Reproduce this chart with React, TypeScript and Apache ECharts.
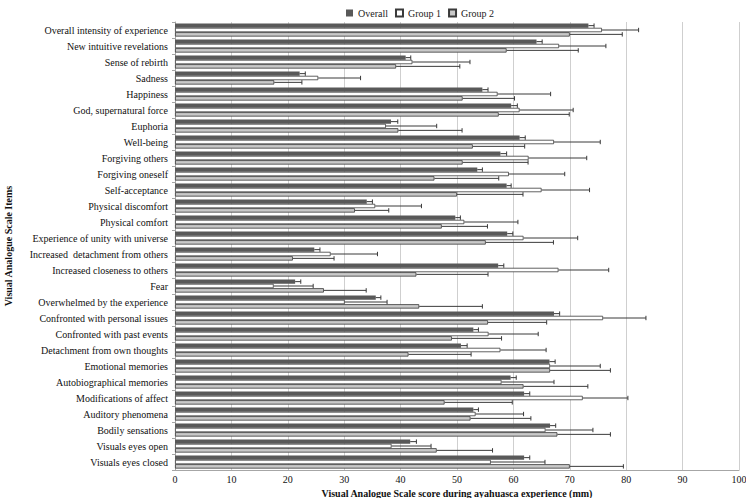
import React, { useEffect, useRef } from "react";
import * as echarts from "echarts";

const categories = [
  "Overall intensity of experience",
  "New intuitive revelations",
  "Sense of rebirth",
  "Sadness",
  "Happiness",
  "God, supernatural force",
  "Euphoria",
  "Well-being",
  "Forgiving others",
  "Forgiving oneself",
  "Self-acceptance",
  "Physical discomfort",
  "Physical comfort",
  "Experience of unity with universe",
  "Increased  detachment from others",
  "Increased closeness to others",
  "Fear",
  "Overwhelmed by the experience",
  "Confronted with personal issues",
  "Confronted with past events",
  "Detachment from own thoughts",
  "Emotional memories",
  "Autobiographical memories",
  "Modifications of affect",
  "Auditory phenomena",
  "Bodily sensations",
  "Visuals eyes open",
  "Visuals eyes closed",
];

const overall = [73.3, 64.1, 40.9, 22.1, 54.5, 59.6, 38.3, 61.1, 57.7, 53.6, 58.8, 34.0, 49.7, 58.9, 24.7, 57.3, 21.3, 35.6, 67.2, 52.9, 50.7, 66.4, 59.5, 61.9, 52.9, 66.5, 41.7, 61.9];
const overallErr = [1.0, 1.0, 0.9, 1.0, 1.0, 1.1, 1.2, 1.0, 1.1, 0.9, 0.8, 1.0, 0.9, 1.0, 1.0, 1.0, 1.0, 0.9, 1.0, 0.9, 1.1, 1.0, 1.0, 1.0, 0.9, 1.0, 1.1, 1.0];

const group1 = [75.7, 68.1, 42.1, 25.4, 57.2, 61.1, 37.4, 67.2, 62.7, 59.2, 65.0, 35.5, 51.3, 61.8, 27.6, 68.0, 17.5, 30.1, 75.9, 55.6, 57.7, 66.5, 57.9, 72.3, 53.3, 65.7, 38.4, 56.0];
const group1Err = [6.5, 8.3, 10.2, 7.5, 9.4, 9.5, 9.0, 8.2, 10.3, 9.9, 8.5, 8.2, 9.5, 9.6, 8.3, 8.9, 7.0, 7.5, 7.6, 8.8, 8.1, 8.9, 9.3, 8.0, 8.5, 8.4, 7.0, 9.6];

const group2 = [70.0, 58.8, 39.2, 17.6, 51.0, 57.4, 39.6, 52.8, 51.0, 46.0, 50.0, 31.9, 47.3, 55.1, 20.9, 42.8, 26.4, 43.3, 55.5, 49.1, 41.4, 66.5, 61.8, 47.8, 52.4, 67.8, 46.4, 70.0];
const group2Err = [9.3, 12.7, 11.3, 4.9, 9.2, 12.5, 11.3, 9.2, 11.6, 11.4, 11.7, 6.0, 8.1, 12.0, 7.3, 12.7, 7.5, 11.2, 10.4, 8.8, 11.1, 10.7, 11.4, 12.0, 10.7, 9.4, 9.9, 9.5];

const seriesNames = ["Overall", "Group 1", "Group 2"];
const xTicks = [0, 10, 20, 30, 40, 50, 60, 70, 80, 90, 100];

const FONT = "Liberation Serif";
const CAT_GAP = 0.18;

export default function App() {
  const ref = useRef<HTMLDivElement>(null);

  useEffect(() => {
    if (!ref.current) return;
    const chart = echarts.init(ref.current, undefined, { renderer: "svg" });

    const values = [overall, group1, group2];
    const errs = [overallErr, group1Err, group2Err];
    const fills = ["#595959", "#ffffff", "#c9c9c9"];

    const barSeries = values.map((v, i) => ({
      name: seriesNames[i],
      type: "bar",
      data: v,
      barGap: "0%",
      barCategoryGap: CAT_GAP * 100 + "%",
      itemStyle: {
        color: fills[i],
        borderColor: i === 0 ? "#4a4a4a" : "#3a3a3a",
        borderWidth: i === 0 ? 0 : 0.8,
      },
      z: 2,
    }));

    const errSeries = values.map((v, i) => ({
      name: "err" + i,
      type: "custom",
      z: 3,
      data: v.map((val, k) => [val, k, errs[i][k]]),
      encode: { x: 0, y: 1 },
      renderItem: (params: any, api: any) => {
        const val = api.value(0);
        const idx = api.value(1);
        const e = api.value(2);
        const band = api.size([0, 1])[1];
        const w = (band * (1 - CAT_GAP)) / 3;
        const p0 = api.coord([val, idx]);
        const p1 = api.coord([val + e, idx]);
        const y = p0[1] + (i - 1) * w;
        const capH = 2.2;
        const style = { stroke: "#3a3a3a", lineWidth: 1 };
        return {
          type: "group",
          children: [
            { type: "line", shape: { x1: p0[0], y1: y, x2: p1[0], y2: y }, style },
            { type: "line", shape: { x1: p1[0], y1: y - capH, x2: p1[0], y2: y + capH }, style },
          ],
        };
      },
    }));

    chart.setOption({
      animation: false,
      textStyle: { fontFamily: FONT },
      legend: {
        data: seriesNames,
        top: 3,
        left: 341,
        icon: "rect",
        itemWidth: 7,
        itemHeight: 7,
        itemGap: 7,
        textStyle: { fontFamily: FONT, fontSize: 10, color: "#222" },
      },
      grid: { left: 175, right: 7, top: 22, bottom: 28, containLabel: false, outerBoundsMode: "none" },
      xAxis: {
        type: "value",
        min: 0,
        max: 100,
        interval: 10,
        name: "Visual Analogue Scale score during ayahuasca experience (mm)",
        nameLocation: "middle",
        nameGap: 15,
        nameTextStyle: { fontFamily: FONT, fontSize: 10, fontWeight: "bold", color: "#111" },
        axisLabel: {
          fontFamily: FONT,
          fontSize: 10,
          color: "#111",
          margin: 4,
          formatter: (v: number) => (xTicks.includes(v) ? String(v) : ""),
        },
        axisLine: { show: true, lineStyle: { color: "#a6a6a6" } },
        axisTick: { show: false },
        splitLine: { show: true, lineStyle: { color: "#cfcfcf", width: 1 } },
      },
      yAxis: {
        type: "category",
        data: categories,
        inverse: true,
        name: "Visual Analogue Scale Items",
        nameLocation: "middle",
        nameRotate: 90,
        nameGap: 162,
        nameTextStyle: { fontFamily: FONT, fontSize: 10, fontWeight: "bold", color: "#111" },
        axisLabel: { fontFamily: FONT, fontSize: 10, color: "#111", margin: 7, interval: 0 },
        axisLine: { show: true, lineStyle: { color: "#a6a6a6" } },
        axisTick: { show: true, length: 3, lineStyle: { color: "#a6a6a6" } },
        splitLine: { show: false },
      },
      series: [...barSeries, ...errSeries],
    });

    return () => chart.dispose();
  }, []);

  return (
    <div
      ref={ref}
      style={{ position: "fixed", left: 0, top: 0, width: 746, height: 498, background: "#fff" }}
    />
  );
}
